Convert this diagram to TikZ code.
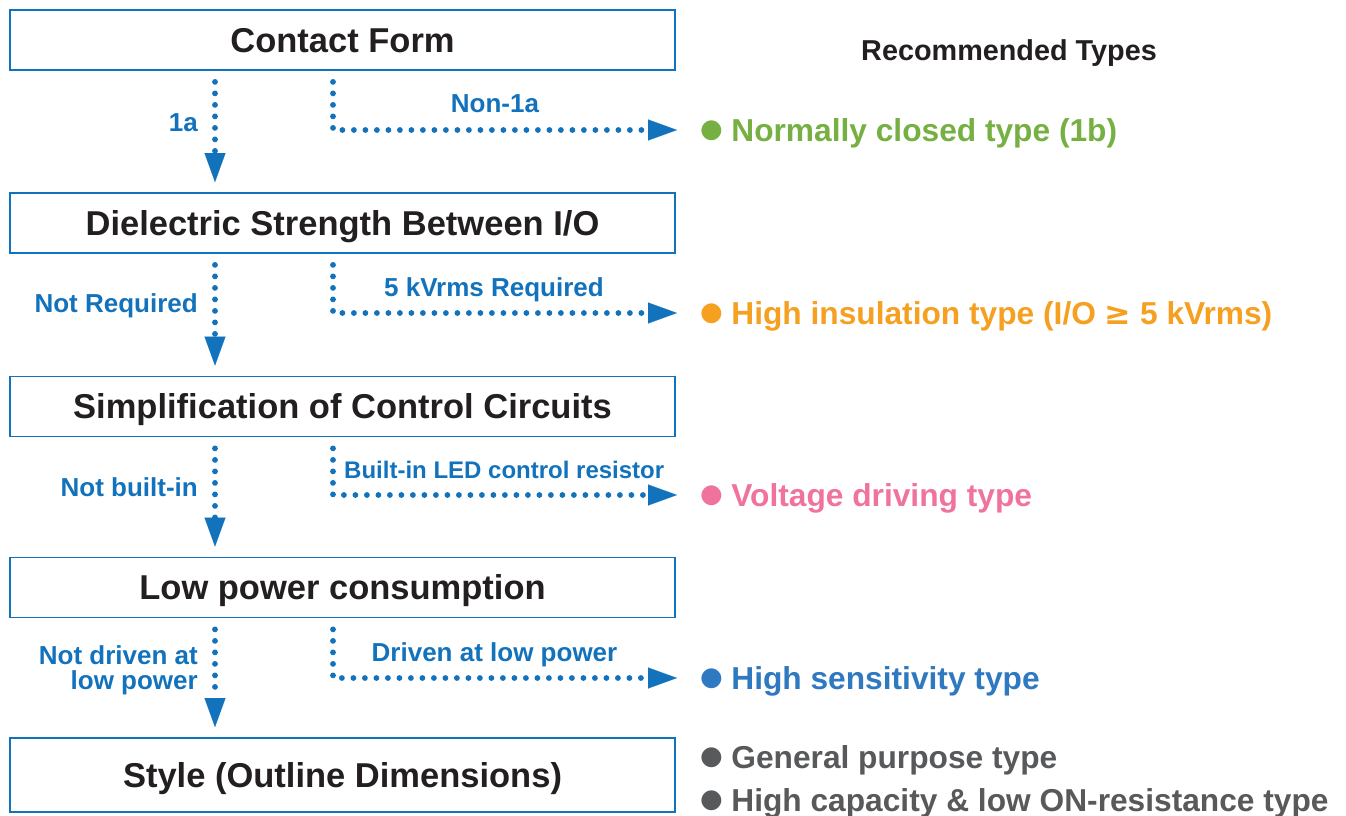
\documentclass[tikz,border=0pt]{standalone}
\usepackage{fontspec}
\setmainfont{Liberation Sans}
\newfontfamily\symfont{DejaVu Sans}
\usetikzlibrary{arrows.meta}

\definecolor{flowblue}{RGB}{18,114,188}
\definecolor{inkblack}{RGB}{35,31,32}
\definecolor{typegreen}{RGB}{118,176,67}
\definecolor{typeorange}{RGB}{246,160,34}
\definecolor{typepink}{RGB}{239,115,157}
\definecolor{typeblue}{RGB}{47,121,193}
\definecolor{typegray}{RGB}{88,89,91}

\newcommand\pxsize[1]{\fontsize{#1pt}{#1pt}\selectfont\bfseries}
\newcommand\dotmark{\raisebox{4pt}{\symfont\fontsize{26pt}{26pt}\selectfont ●}\hspace{8.5pt}}

\begin{document}
\begin{tikzpicture}[x=1pt,y=-1pt,
  stepbox/.style={draw=flowblue, line width=1.8pt, minimum width=665pt,
    minimum height=60pt, inner sep=0pt, text=inkblack, font=\pxsize{34.5},
    text height=24.7pt, text depth=0pt},
  flow/.style={draw=flowblue, line width=5.8pt, line cap=round,
    dash pattern=on 0pt off 11.5pt, shorten <=11pt,
    -{Triangle[length=29pt, width=21pt, line width=0.1pt]}},
  branchlabel/.style={text=flowblue, font=\pxsize{26}, inner sep=0pt},
  oneline/.style={text height=18.6pt, text depth=0pt},
  result/.style={anchor=west, inner sep=0pt, font=\pxsize{31.7},
    text height=22.7pt, text depth=0pt}]

\useasboundingbox (0,0) rectangle (1346,816);

% column positions of the two connector lanes
\coordinate (dn) at (215,0);
\coordinate (br) at (333,0);

% decision boxes
\node[stepbox] (b1) at (342.5,40)  {Contact Form};
\node[stepbox] (b2) at (342.5,223) {Dielectric Strength Between I/O};
\node[stepbox] (b3) at (342.5,406.5) {Simplification of Control Circuits};
\node[stepbox] (b4) at (342.5,587.5) {Low power consumption};
\node[stepbox, minimum height=74pt] (b5) at (342.5,775) {Style (Outline Dimensions)};

% recommended types
\node[font=\pxsize{28.8}, text=inkblack, inner sep=0pt, text height=20.6pt, text depth=0pt] (head) at (1009,50) {Recommended Types};
\node[result, text=typegreen]  (r1) at (700,130) {\dotmark Normally closed type (1b)};
\node[result, text=typeorange] (r2) at (700,313) {\dotmark High insulation type (I/O {\symfont ≥} 5 kVrms)};
\node[result, text=typepink]   (r3) at (700,495) {\dotmark Voltage driving type};
\node[result, text=typeblue]   (r4) at (700,678) {\dotmark High sensitivity type};
\node[result, text=typegray]   (r5) at (700,757) {\dotmark General purpose type};
\node[result, text=typegray]   (r6) at (700,800) {\dotmark High capacity \& low ON-resistance type};

% main flow downwards
\draw[flow, shorten >=10pt] (b1.south -| dn) -- (b2.north -| dn);
\draw[flow, shorten >=10pt] (b2.south -| dn) -- (b3.north -| dn);
\draw[flow, shorten >=10pt] (b3.south -| dn) -- (b4.north -| dn);
\draw[flow, shorten >=10pt] (b4.south -| dn) -- (b5.north -| dn);

% branches to the recommended types
\draw[flow, shorten >=23pt] (b1.south -| br) |- (r1.west);
\draw[flow, shorten >=23pt] (b2.south -| br) |- (r2.west);
\draw[flow, shorten >=23pt] (b3.south -| br) |- (r3.west);
\draw[flow, shorten >=23pt] (b4.south -| br) |- (r4.west);

% branch labels
\node[branchlabel, oneline, anchor=east] (l1a) at (198,122) {1a};
\node[branchlabel, oneline] (l1b) at (495,103) {Non-1a};
\node[branchlabel, oneline, anchor=east] (l2a) at (198,303) {Not Required};
\node[branchlabel, oneline] (l2b) at (494,287) {5 kVrms Required};
\node[branchlabel, oneline, anchor=east] (l3a) at (198,487) {Not built-in};
\node[branchlabel, anchor=west, font=\pxsize{24}, text height=17.2pt, text depth=0pt] (l3b) at (344,470) {Built-in LED control resistor};
\node[branchlabel, anchor=east, align=right, font={\fontsize{26pt}{25pt}\selectfont\bfseries}] (l4a) at (198,670) {Not driven at\\low power};
\node[branchlabel, oneline] (l4b) at (494.5,652) {Driven at low power};

\end{tikzpicture}
\end{document}
